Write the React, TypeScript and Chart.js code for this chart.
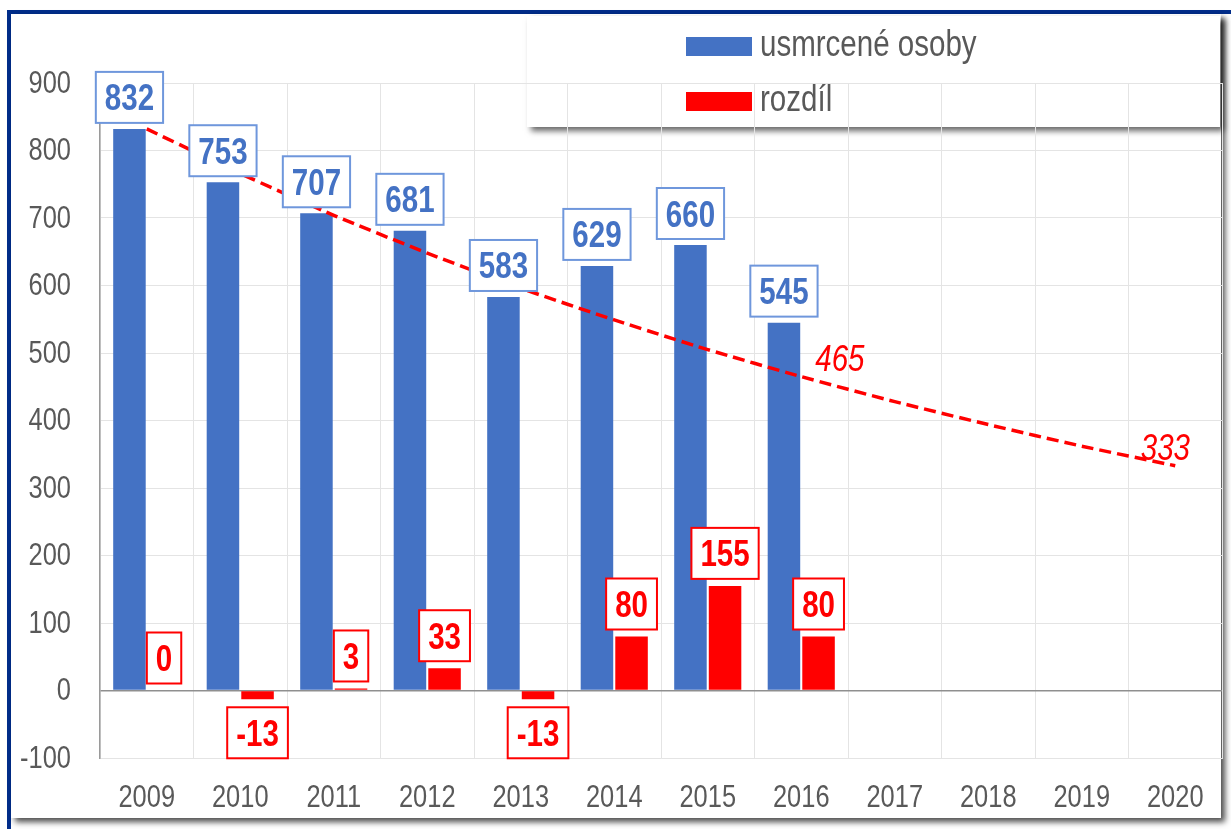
import React, { useEffect, useRef } from 'react';
import { Chart, registerables } from 'chart.js';

Chart.register(...registerables);

const years = ['2009', '2010', '2011', '2012', '2013', '2014', '2015', '2016', '2017', '2018', '2019', '2020'];
const killed = [832, 753, 707, 681, 583, 629, 660, 545, null, null, null, null];
const difference = [0, -13, 3, 33, -13, 80, 155, 80, null, null, null, null];
const target = [832, 766, 704, 648, 596, 549, 505, 465, 428, 394, 362, 333];
const targetLabelYears = ['2016', '2020'];
const yMin = -100;
const yMax = 900;
const yStep = 100;

const FONT = "'Liberation Sans', Arial, sans-serif";
const NARROW = 0.82;
const BLUE = '#4472c4';
const RED = '#ff0000';
const GRAY_TEXT = '#595959';
const NAVY = '#012d8a';

const W = 1231;
const H = 829;

function narrowText(ctx: any, text: string, x: number, y: number, font: string, color: string, align: string, baseline: string) {
  ctx.save();
  ctx.font = font;
  ctx.fillStyle = color;
  ctx.textAlign = align;
  ctx.textBaseline = baseline;
  ctx.translate(x, y);
  ctx.scale(NARROW, 1);
  ctx.fillText(text, 0, 0);
  ctx.restore();
}

function narrowWidth(ctx: any, text: string, font: string) {
  ctx.save();
  ctx.font = font;
  const w = ctx.measureText(text).width * NARROW;
  ctx.restore();
  return w;
}

const decorPlugin = {
  id: 'decor',
  beforeDraw(chart: any) {
    const ctx = chart.ctx;
    ctx.save();
    ctx.shadowColor = 'rgba(0,0,0,0.6)';
    ctx.shadowBlur = 6;
    ctx.shadowOffsetX = 4;
    ctx.shadowOffsetY = 4;
    ctx.fillStyle = '#ffffff';
    ctx.fillRect(527, 16, 693, 111);
    ctx.restore();
  },
  afterDatasetsDraw(chart: any) {
    const ctx = chart.ctx;
    const area = chart.chartArea;
    const boxFont = `bold 36px ${FONT}`;
    const drawBox = (text: string, cx: number, top: number, color: string, stroke: string) => {
      const tw = narrowWidth(ctx, text, boxFont);
      const bw = tw + 18;
      const bh = 51;
      const x = cx - bw / 2;
      ctx.save();
      ctx.fillStyle = '#ffffff';
      ctx.fillRect(x, top, bw, bh);
      ctx.lineWidth = 2;
      ctx.strokeStyle = stroke;
      ctx.strokeRect(x, top, bw, bh);
      ctx.restore();
      narrowText(ctx, text, cx, top + bh / 2 + 13, boxFont, color, 'center', 'alphabetic');
    };
    const m0 = chart.getDatasetMeta(0);
    killed.forEach((v, i) => {
      if (v === null) return;
      const el = m0.data[i];
      drawBox(String(v), el.x, el.y - 6 - 51, BLUE, '#6f97dc');
    });
    const m1 = chart.getDatasetMeta(1);
    difference.forEach((v, i) => {
      if (v === null) return;
      const el = m1.data[i];
      if (v >= 0) drawBox(String(v), el.x, el.y - 7 - 51, RED, RED);
      else drawBox(String(v), el.x, el.y + 8, RED, RED);
    });
    const m2 = chart.getDatasetMeta(2);
    const lblFont = `italic 36px ${FONT}`;
    years.forEach((yr, i) => {
      if (!targetLabelYears.includes(yr)) return;
      const el = m2.data[i];
      const text = String(target[i]);
      const tw = narrowWidth(ctx, text, lblFont);
      let x = el.x + 14;
      if (x + tw > area.right - 32) x = area.right - 32 - tw;
      narrowText(ctx, text, x, el.y - 6, lblFont, RED, 'left', 'alphabetic');
    });
  },
  afterDraw(chart: any) {
    const ctx = chart.ctx;
    // axis tick labels
    const tickFont = `31px ${FONT}`;
    const ys = chart.scales.y;
    ys.ticks.forEach((t: any) => {
      narrowText(ctx, String(t.value), ys.right - 29, ys.getPixelForValue(t.value) + 1, tickFont, GRAY_TEXT, 'right', 'middle');
    });
    const xs = chart.scales.x;
    years.forEach((yr, i) => {
      narrowText(ctx, yr, xs.getPixelForValue(i), xs.top + 40, tickFont, GRAY_TEXT, 'center', 'middle');
    });
    // legend
    [0, 1].forEach((di, k) => {
      const ds = chart.data.datasets[di];
      const top = 37 + k * 55;
      ctx.save();
      ctx.fillStyle = ds.backgroundColor;
      ctx.fillRect(686, top, 66, 19);
      ctx.restore();
      narrowText(ctx, ds.label, 760, top + 19, `36px ${FONT}`, GRAY_TEXT, 'left', 'alphabetic');
    });
  },
};

function ChartView() {
  const ref = useRef<HTMLCanvasElement | null>(null);
  useEffect(() => {
    if (!ref.current) return;
    const chart = new Chart(ref.current, {
      type: 'bar',
      data: {
        labels: years,
        datasets: [
          {
            type: 'bar',
            label: 'usmrcené osoby',
            data: killed,
            backgroundColor: BLUE,
            categoryPercentage: 0.74,
            barPercentage: 0.94,
            order: 1,
          },
          {
            type: 'bar',
            label: 'rozdíl',
            data: difference,
            backgroundColor: RED,
            categoryPercentage: 0.74,
            barPercentage: 0.94,
            order: 1,
          },
          {
            type: 'line',
            label: 'cíl',
            data: target,
            borderColor: RED,
            borderWidth: 3.5,
            borderDash: [12, 6],
            pointRadius: 0,
            tension: 0.2,
            fill: false,
            order: 0,
          },
        ],
      } as any,
      options: {
        responsive: false,
        animation: false,
        layout: { padding: { top: 83, left: 0, right: 9, bottom: 0 } },
        plugins: {
          legend: { display: false },
          tooltip: { enabled: false },
        },
        scales: {
          x: {
            grid: { color: '#e4e4e4', lineWidth: 1, drawTicks: false, offset: true },
            border: { color: '#e4e4e4' },
            ticks: { color: 'rgba(0,0,0,0)', font: { family: FONT, size: 30 }, padding: 22, maxRotation: 0 },
            afterFit: (s: any) => { s.height = 71; },
          },
          y: {
            min: yMin,
            max: yMax,
            ticks: { stepSize: yStep, color: 'rgba(0,0,0,0)', font: { family: FONT, size: 30 }, padding: 29 },
            grid: {
              drawTicks: false,
              color: (c: any) => (c.tick && c.tick.value === 0 ? '#8f8f8f' : '#e4e4e4'),
              lineWidth: (c: any) => (c.tick && c.tick.value === 0 ? 1.6 : 1),
            },
            border: { color: '#9a9a9a', width: 1.5 },
            afterFit: (s: any) => { s.width = 100; },
          },
        },
      } as any,
      plugins: [decorPlugin],
    });
    return () => chart.destroy();
  }, []);
  return <canvas ref={ref} width={W} height={H} style={{ position: 'absolute', left: 0, top: 0, width: W, height: H }} />;
}

export default function App() {
  return (
    <div style={{ position: 'fixed', left: 0, top: 0, width: W, height: H, overflow: 'hidden', background: '#ffffff' }}>
      <div
        style={{
          position: 'absolute',
          left: 7,
          top: 10,
          width: 1400,
          height: 1000,
          borderTop: `4px solid ${NAVY}`,
          borderLeft: `4px solid ${NAVY}`,
        }}
      />
      <div
        style={{
          position: 'absolute',
          left: 11,
          top: 14,
          width: 1210,
          height: 804,
          background: '#ffffff',
          boxShadow: '4px 4px 6px rgba(0,0,0,0.7)',
        }}
      />
      <ChartView />
    </div>
  );
}
